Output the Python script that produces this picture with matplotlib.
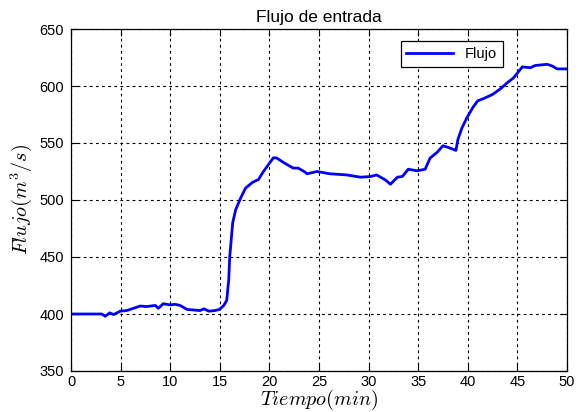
import matplotlib
matplotlib.use("Agg")
import matplotlib.pyplot as plt

# Inflow record: time (min) and flow (m^3/s)
tiempo = [0.0, 1.0, 2.0, 3.1, 3.45, 3.9, 4.3, 4.96, 5.6, 6.3, 6.97, 7.6, 8.5, 8.8, 9.3,
          10.0, 10.5, 11.0, 11.7, 12.4, 13.0, 13.4, 13.9, 14.5, 14.97, 15.4, 15.7,
          15.9, 16.0, 16.3, 16.6, 17.1, 17.6, 18.3, 18.9, 19.4, 19.9, 20.4, 20.7,
          21.5, 22.4, 22.9, 23.5, 23.8, 24.8, 26.1, 27.8, 29.2, 30.2, 30.8, 31.7,
          32.2, 32.9, 33.4, 34.0, 34.9, 35.7, 36.2, 36.9, 37.5, 38.2, 38.8, 39.0,
          39.4, 39.9, 40.5, 41.0, 41.6, 42.5, 43.3, 44.0, 44.6, 45.5, 46.3, 46.8,
          48.0, 48.5, 49.0, 49.8, 50.0]
flujo = [400.0, 400.0, 400.0, 400.0, 398.0, 401.0, 399.5, 402.5, 403.0, 405.0, 407.0,
         406.5, 407.5, 405.0, 409.0, 408.0, 408.5, 407.5, 404.0, 403.5, 403.0, 404.5,
         402.5, 403.0, 404.0, 407.5, 412.0, 430.0, 450.0, 480.0, 491.5, 501.7, 510.5,
         515.5, 518.0, 525.0, 531.0, 537.0, 537.0, 532.5, 528.0, 528.0, 525.0, 523.0,
         525.0, 523.0, 522.0, 520.0, 520.6, 522.0, 517.6, 513.8, 520.0, 520.6, 527.0,
         525.6, 527.0, 536.8, 541.8, 547.6, 545.6, 543.5, 553.0, 563.0, 572.0, 581.0,
         587.0, 589.0, 592.6, 597.6, 603.0, 607.0, 616.8, 616.0, 618.0, 619.0, 617.6,
         615.0, 615.0, 615.0]

x_ticks = [0, 5, 10, 15, 20, 25, 30, 35, 40, 45, 50]
y_ticks = [350, 400, 450, 500, 550, 600, 650]

plt.rcParams['font.family'] = ['Liberation Sans', 'DejaVu Sans']
plt.rcParams['mathtext.fontset'] = 'cm'

fig = plt.figure(figsize=(5.81, 4.12), dpi=100)
ax = fig.add_axes([71 / 581, 1 - 371 / 412, 496 / 581, 342 / 412])

ax.plot(tiempo, flujo, color=(0, 0, 1), lw=2.0, label='Flujo')

ax.set_xlim(0, 50)
ax.set_ylim(350, 650)
ax.set_xticks(x_ticks)
ax.set_yticks(y_ticks)
ax.tick_params(direction='in', top=True, right=True, length=5, width=0.8,
               labelsize=10.5)
ax.tick_params(axis='x', pad=3)
ax.tick_params(axis='y', pad=5)
ax.grid(True, color='black', linestyle=(0, (2.5, 3)), linewidth=0.8)
for s in ax.spines.values():
    s.set_linewidth(0.9)

ax.set_title('Flujo de entrada', fontsize=12.5, pad=5)
ax.set_xlabel(r'$Tiempo(min)$', fontsize=14.5, labelpad=-1)
ax.set_ylabel(r'$Flujo(m^3/s)$', fontsize=14.5, labelpad=4)

leg = ax.legend(loc='upper right', bbox_to_anchor=(0.885, 0.985), fontsize=10.5,
                fancybox=False, edgecolor='black', framealpha=1, handlelength=3.2,
                borderpad=0.4)
leg.get_frame().set_linewidth(0.9)

fig.savefig('out.png', dpi=100)
